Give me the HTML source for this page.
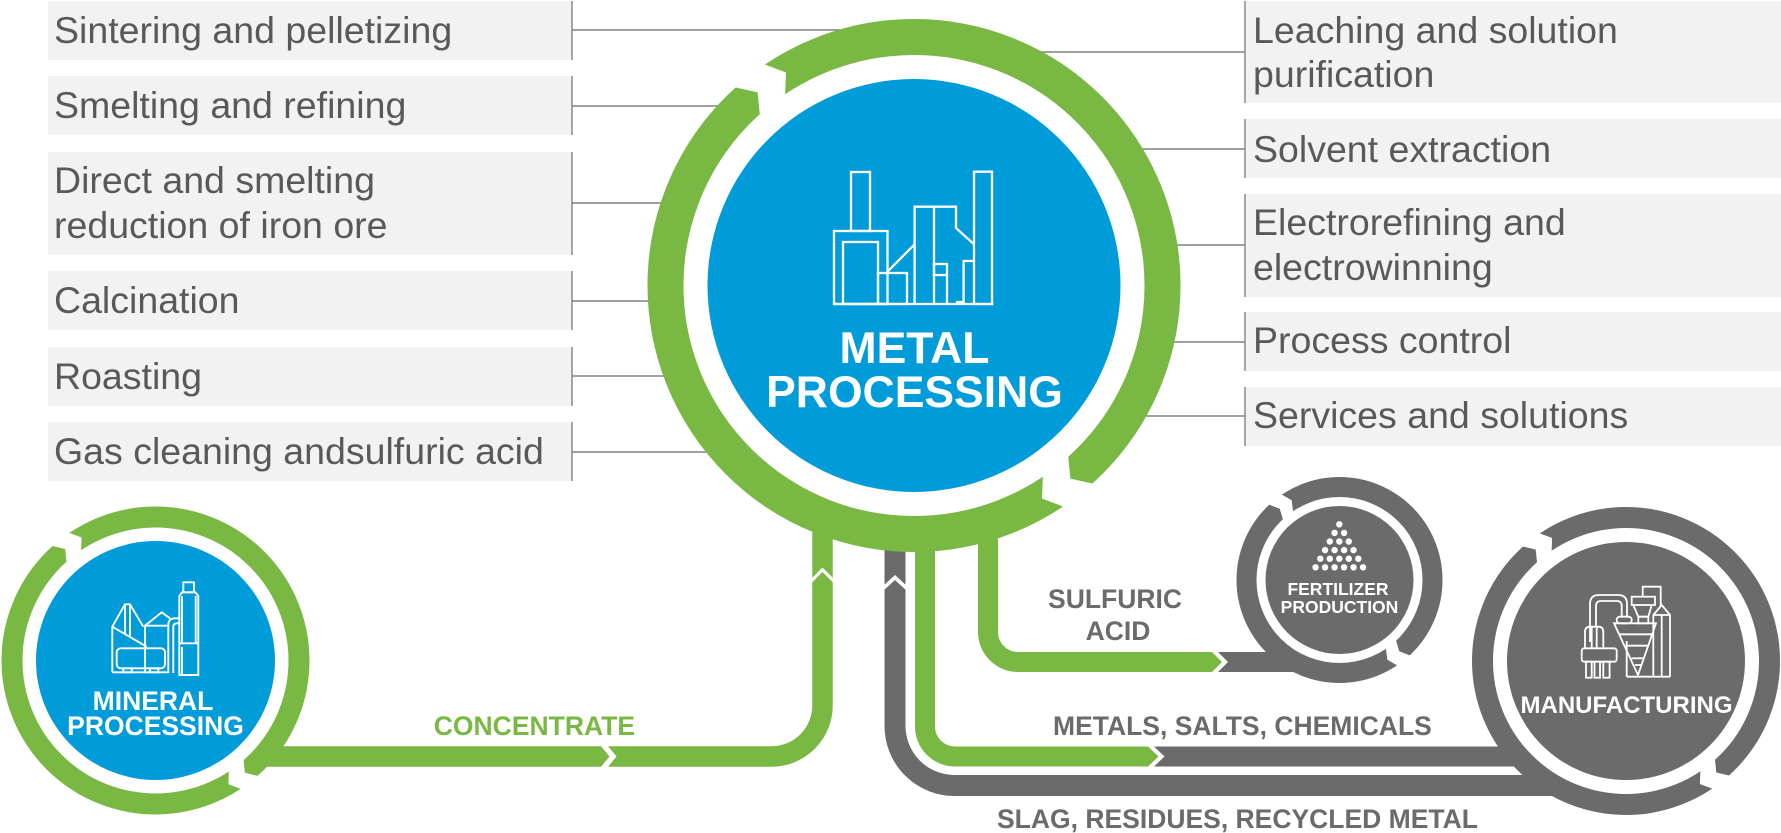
<!DOCTYPE html>
<html><head><meta charset="utf-8"><style>
html,body{margin:0;padding:0;background:#fff;}
svg{display:block;}
.bt{font-family:"Liberation Sans",Arial,sans-serif;font-size:37.5px;fill:#595959;}
.bd{font-family:"Liberation Sans",Arial,sans-serif;font-weight:700;}
</style></head><body>
<svg width="1781" height="833" viewBox="0 0 1781 833" xmlns="http://www.w3.org/2000/svg">
<rect width="1781" height="833" fill="#fff"/>
<!-- left boxes -->
<g fill="#f2f2f2">
<rect x="48" y="1" width="524" height="59"/>
<rect x="48" y="76" width="524" height="59"/>
<rect x="48" y="152" width="524" height="103"/>
<rect x="48" y="271" width="524" height="59"/>
<rect x="48" y="347" width="524" height="59"/>
<rect x="48" y="422" width="524" height="59"/>
<rect x="1246" y="1" width="535" height="102"/>
<rect x="1246" y="119" width="535" height="59"/>
<rect x="1246" y="194" width="535" height="103"/>
<rect x="1246" y="312" width="535" height="59"/>
<rect x="1246" y="387" width="535" height="59"/>
</g>
<g class="bt">
<text x="54" y="43">Sintering and pelletizing</text>
<text x="54" y="118">Smelting and refining</text>
<text x="54" y="193">Direct and smelting</text>
<text x="54" y="238">reduction of iron ore</text>
<text x="54" y="313">Calcination</text>
<text x="54" y="389">Roasting</text>
<text x="54" y="464">Gas cleaning andsulfuric acid</text>
<text x="1253" y="43">Leaching and solution</text>
<text x="1253" y="87">purification</text>
<text x="1253" y="162">Solvent extraction</text>
<text x="1253" y="235">Electrorefining and</text>
<text x="1253" y="280">electrowinning</text>
<text x="1253" y="353">Process control</text>
<text x="1253" y="428">Services and solutions</text>
</g>
<g stroke="#808080" stroke-width="1.4" fill="none">
<line x1="572" y1="1" x2="572" y2="60"/>
<line x1="572" y1="76" x2="572" y2="135"/>
<line x1="572" y1="152" x2="572" y2="255"/>
<line x1="572" y1="271" x2="572" y2="330"/>
<line x1="572" y1="347" x2="572" y2="406"/>
<line x1="572" y1="422" x2="572" y2="481"/>
<line x1="572" y1="30" x2="840" y2="30"/>
<line x1="572" y1="106" x2="720" y2="106"/>
<line x1="572" y1="203" x2="665" y2="203"/>
<line x1="572" y1="301" x2="652" y2="301"/>
<line x1="572" y1="376" x2="667" y2="376"/>
<line x1="572" y1="452" x2="710" y2="452"/>
<line x1="1245" y1="1" x2="1245" y2="103"/>
<line x1="1245" y1="119" x2="1245" y2="178"/>
<line x1="1245" y1="194" x2="1245" y2="297"/>
<line x1="1245" y1="312" x2="1245" y2="371"/>
<line x1="1245" y1="387" x2="1245" y2="446"/>
<line x1="1040" y1="52" x2="1245" y2="52"/>
<line x1="1140" y1="149" x2="1245" y2="149"/>
<line x1="1174" y1="245" x2="1245" y2="245"/>
<line x1="1171" y1="342" x2="1245" y2="342"/>
<line x1="1142" y1="416" x2="1245" y2="416"/>
</g>

<!-- bars -->
<g fill="none" stroke-linecap="butt">
<path d="M265,756.5 H771.5 A51,51 0 0 0 822.5,705.5 V515" stroke="#78b843" stroke-width="20.5"/>
<path d="M895,549 V726 A59.5,59.5 0 0 0 954.5,785.5 H1552" stroke="#6b6b6b" stroke-width="21"/>
<path d="M925,530 V726.5 A30,30 0 0 0 955,756.5 H1148" stroke="#78b843" stroke-width="20"/>
<path d="M988,520 V632 A30,30 0 0 0 1018,662 H1212" stroke="#78b843" stroke-width="20"/>
</g>
<polygon points="1148,746.5 1158.5,756.5 1148,766.5" fill="#78b843"/>
<polygon points="1154,746.5 1515,746.5 1515,766.5 1154,766.5 1164.5,756.5" fill="#6b6b6b"/>
<polygon points="1212,652 1222,662 1212,672" fill="#78b843"/>
<polygon points="1218,652 1295,652 1295,672 1218,672 1228,662" fill="#6b6b6b"/>

<!-- rings -->
<circle cx="914" cy="285.5" r="248.5" fill="none" stroke="#78b843" stroke-width="36"/>
<circle cx="155.5" cy="660.5" r="143.5" fill="none" stroke="#78b843" stroke-width="21"/>
<circle cx="1339.5" cy="580" r="93" fill="none" stroke="#6b6b6b" stroke-width="20"/>
<circle cx="1626" cy="661" r="143.5" fill="none" stroke="#6b6b6b" stroke-width="21"/>

<!-- ring gaps -->
<g fill="#fff">
<g transform="translate(914,285.5) rotate(-132)"><polygon points="269.5,0 266.5,0 248.16,13.01 230.5,0 227.5,0 225.29,31.66 228.26,32.08 243.94,47.42 263.91,37.09 266.88,37.51"/></g>
<g transform="translate(914,285.5) rotate(48)"><polygon points="269.5,0 266.5,0 248.16,13.01 230.5,0 227.5,0 225.29,31.66 228.26,32.08 243.94,47.42 263.91,37.09 266.88,37.51"/></g>
<g transform="translate(155.5,660.5) rotate(-132)"><polygon points="157,0 154,0 143.3,7.51 133,0 130,0 128.74,18.09 131.71,18.51 140.86,27.38 152.5,21.43 155.47,21.85"/></g>
<g transform="translate(155.5,660.5) rotate(48.5)"><polygon points="157,0 154,0 143.3,7.51 133,0 130,0 128.74,18.09 131.71,18.51 140.86,27.38 152.5,21.43 155.47,21.85"/></g>
<g transform="translate(1626,661) rotate(-132)"><polygon points="157,0 154,0 143.3,7.51 133,0 130,0 128.74,18.09 131.71,18.51 140.86,27.38 152.5,21.43 155.47,21.85"/></g>
<g transform="translate(1626,661) rotate(48)"><polygon points="157,0 154,0 143.3,7.51 133,0 130,0 128.74,18.09 131.71,18.51 140.86,27.38 152.5,21.43 155.47,21.85"/></g>
<g transform="translate(1339.5,580) rotate(-133)"><polygon points="106,0 103,0 92.87,4.87 83,0 80,0 79.02,12.51 81.98,12.98 90.97,19.34 101.73,16.11 104.7,16.58"/></g>
<g transform="translate(1339.5,580) rotate(47)"><polygon points="106,0 103,0 92.87,4.87 83,0 80,0 79.02,12.51 81.98,12.98 90.97,19.34 101.73,16.11 104.7,16.58"/></g>
</g>

<!-- bar chevrons -->
<g fill="#fff">
<polygon points="810,580 822.5,567.5 835,580 835,584.5 822.5,572 810,584.5"/>
<polygon points="882,587 895,575 908,587 908,592 895,580 882,592"/>
<polygon points="600,745 609.5,756.5 600,768 607,768 616.5,756.5 607,745"/>
</g>

<!-- discs -->
<circle cx="914" cy="285.5" r="206.5" fill="#009bd9"/>
<circle cx="155.5" cy="660.5" r="119.5" fill="#009bd9"/>
<circle cx="1339.5" cy="580" r="74" fill="#6b6b6b"/>
<circle cx="1626" cy="661" r="119" fill="#6b6b6b"/>

<!-- metal icon -->
<g fill="none" stroke="#fff" stroke-width="2.3">
<rect x="851" y="172" width="19" height="59"/>
<rect x="834" y="231" width="53.5" height="73"/>
<rect x="843" y="242" width="35" height="62"/>
<rect x="878" y="273" width="29" height="31"/>
<line x1="887.4" y1="271.7" x2="914.6" y2="244.3"/>
<path d="M914.6,304 V206.7 H956 V228 L974,244.3"/>
<line x1="934" y1="206.7" x2="934" y2="304"/>
<rect x="974" y="171.7" width="18" height="132.3"/>
<rect x="934" y="264" width="13" height="11"/>
<line x1="947" y1="275" x2="947" y2="304"/>
<path d="M956,302 H963.6 V261 H974"/>
<line x1="833.8" y1="304" x2="993.4" y2="304"/>
</g>
<g class="bd" fill="#fff" font-size="44.5" text-anchor="middle">
<text x="914.5" y="363">METAL</text>
<text x="914.5" y="407">PROCESSING</text>
</g>

<!-- mineral icon -->
<g fill="none" stroke="#fff" stroke-width="1.9">
<rect x="183.3" y="582.3" width="10.7" height="10"/>
<path d="M179.3,675 V596 L182,592.3 H195.5 L198.3,596 V675 Z"/>
<line x1="182" y1="596" x2="182" y2="643.3"/>
<line x1="195.7" y1="596" x2="195.7" y2="643.3"/>
<line x1="179.3" y1="643.3" x2="198.3" y2="643.3"/>
<line x1="182" y1="647" x2="182" y2="675"/>
<path d="M168.3,673 V625 Q168.3,618.3 175,618.3 H179.3"/>
<path d="M173.3,673 V627 Q173.3,623.3 177,623.3 H179.3"/>
<path d="M145,672.3 V625.7 L161.7,612.3 L170,618.3"/>
<line x1="145" y1="625.7" x2="168.3" y2="625.7"/>
<path d="M112.3,672.3 V626.7 L125,604.3 H130 L143.3,626.7"/>
<line x1="125" y1="604.3" x2="125" y2="634"/>
<line x1="130" y1="604.3" x2="130" y2="637"/>
<line x1="112.3" y1="626.7" x2="146.7" y2="646.7"/>
<rect x="116.7" y="648.3" width="48.3" height="20" rx="4"/>
<rect x="123.3" y="668.3" width="8.4" height="4"/>
<rect x="150" y="668.3" width="8.3" height="4"/>
<line x1="112.3" y1="672.3" x2="168.3" y2="672.3"/>
</g>
<g class="bd" fill="#fff" font-size="26.5" text-anchor="middle">
<text x="153" y="710">MINERAL</text>
<text x="155.5" y="735">PROCESSING</text>
</g>

<!-- fertilizer -->
<g fill="#fff">
<circle cx="1339.3" cy="524.3" r="3.2"/>
<circle cx="1334.55" cy="532.9" r="3.2"/><circle cx="1344.05" cy="532.9" r="3.2"/>
<circle cx="1329.8" cy="541.5" r="3.2"/><circle cx="1339.3" cy="541.5" r="3.2"/><circle cx="1348.8" cy="541.5" r="3.2"/>
<circle cx="1325.05" cy="550.1" r="3.2"/><circle cx="1334.55" cy="550.1" r="3.2"/><circle cx="1344.05" cy="550.1" r="3.2"/><circle cx="1353.55" cy="550.1" r="3.2"/>
<circle cx="1320.3" cy="558.7" r="3.2"/><circle cx="1329.8" cy="558.7" r="3.2"/><circle cx="1339.3" cy="558.7" r="3.2"/><circle cx="1348.8" cy="558.7" r="3.2"/><circle cx="1358.3" cy="558.7" r="3.2"/>
<circle cx="1315.55" cy="567.3" r="3.2"/><circle cx="1325.05" cy="567.3" r="3.2"/><circle cx="1334.55" cy="567.3" r="3.2"/><circle cx="1344.05" cy="567.3" r="3.2"/><circle cx="1353.55" cy="567.3" r="3.2"/><circle cx="1363.05" cy="567.3" r="3.2"/>
</g>
<g class="bd" fill="#fff" font-size="17.5" text-anchor="middle">
<text x="1338" y="595">FERTILIZER</text>
<text x="1339.5" y="613">PRODUCTION</text>
</g>

<!-- manufacturing icon -->
<g fill="none" stroke="#fff" stroke-width="1.8">
<path d="M1590,642 V604 Q1590,595 1599,595 H1618 Q1627,595 1627,604 V617"/>
<path d="M1596,627 V606 Q1596,601 1601,601 H1617 Q1621.7,601 1621.7,606 V617"/>
<rect x="1616.7" y="616.7" width="15" height="6.6" rx="3"/>
<path d="M1585,648.3 V632 Q1585,626.7 1590,626.7 H1598.3 Q1603.3,626.7 1603.3,632 V648.3"/>
<line x1="1591.7" y1="627" x2="1591.7" y2="648.3"/>
<line x1="1596.7" y1="627" x2="1596.7" y2="648.3"/>
<rect x="1581.7" y="648.3" width="35" height="13.4" rx="2.5"/>
<rect x="1586" y="661.7" width="5.7" height="16"/>
<rect x="1594.5" y="661.7" width="5.5" height="16"/>
<rect x="1603.3" y="661.7" width="6.3" height="16"/>
<polygon points="1614,623.3 1656,623.3 1638,675"/>
<line x1="1619.5" y1="634.3" x2="1652.2" y2="634.3"/>
<line x1="1625.3" y1="645.7" x2="1648.2" y2="645.7"/>
<line x1="1631.6" y1="658.3" x2="1643.8" y2="658.3"/>
<line x1="1634.8" y1="665" x2="1641.5" y2="665"/>
<line x1="1626.7" y1="641" x2="1626.7" y2="676.7"/>
<line x1="1626.7" y1="676.7" x2="1670" y2="676.7"/>
<rect x="1631.7" y="596.7" width="23.3" height="8.3"/>
<path d="M1633.3,605 L1638.3,616.7 H1648.3 L1651.7,605"/>
<rect x="1638.3" y="616.7" width="10" height="6.6"/>
<path d="M1642.7,596.7 V586.7 H1660.7 V606.7"/>
<path d="M1653.3,676.7 V615 L1661.7,605 L1670,615 V676.7"/>
<line x1="1653.3" y1="615" x2="1670" y2="615"/>
<line x1="1661.7" y1="615" x2="1661.7" y2="676.7"/>
</g>
<text class="bd" x="1626.5" y="713" fill="#fff" font-size="24" text-anchor="middle">MANUFACTURING</text>

<!-- connector labels -->
<g class="bd" font-size="26.5">
<text x="635" y="735" fill="#78b843" text-anchor="end">CONCENTRATE</text>
<text x="1053" y="735" fill="#6b6b6b">METALS, SALTS, CHEMICALS</text>
<text x="997" y="828" fill="#6b6b6b">SLAG, RESIDUES, RECYCLED METAL</text>
<text x="1115" y="608" fill="#6b6b6b" text-anchor="middle">SULFURIC</text>
<text x="1118" y="640" fill="#6b6b6b" text-anchor="middle">ACID</text>
</g>
</svg>
</body></html>
